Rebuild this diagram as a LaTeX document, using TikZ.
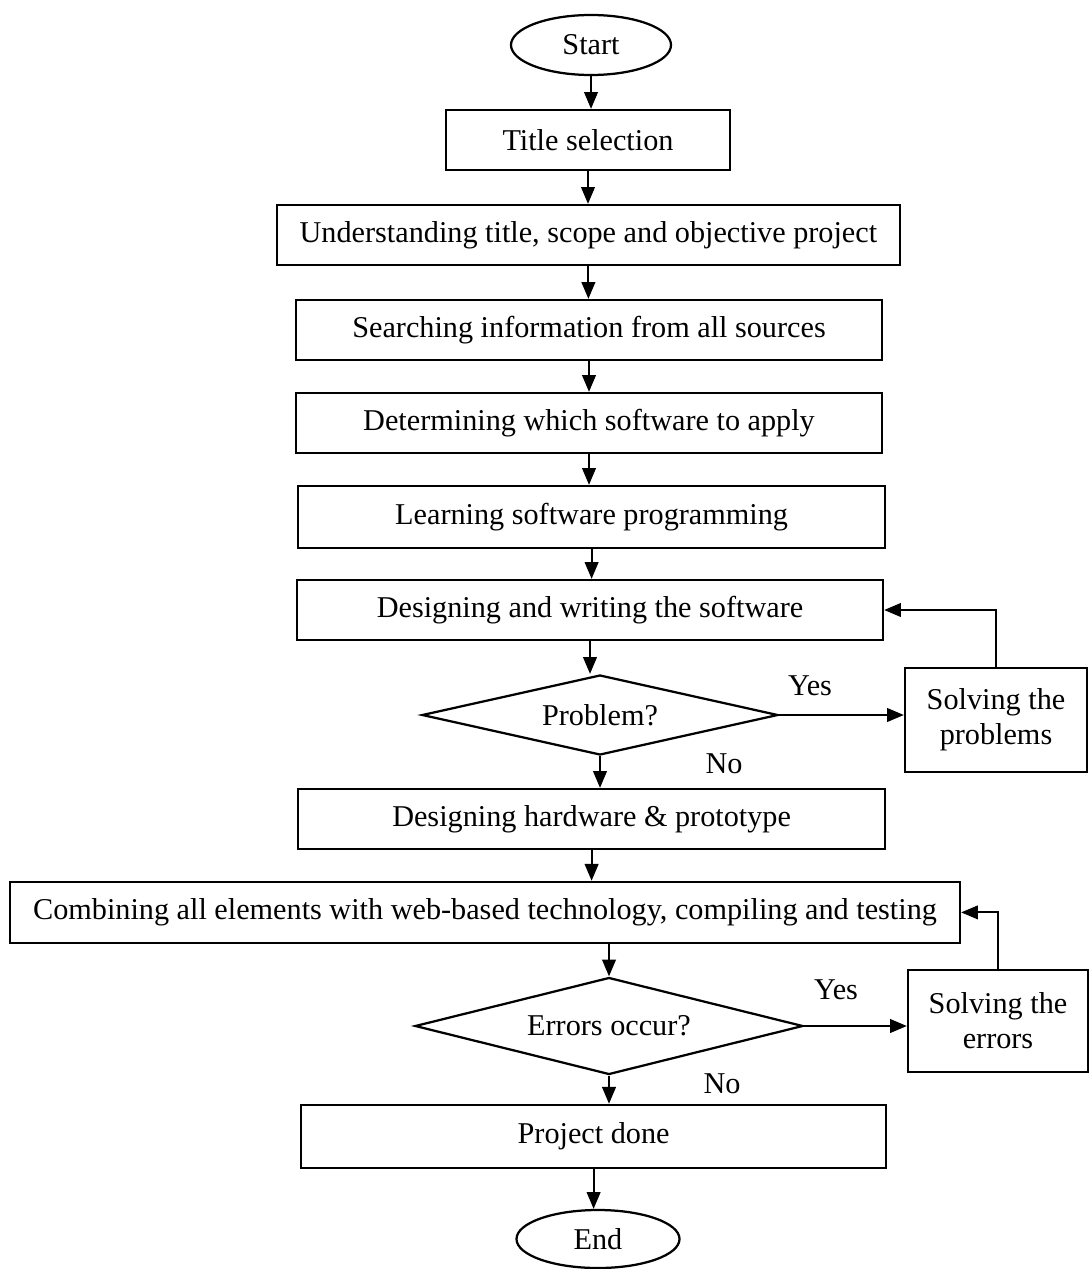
\documentclass[tikz,border=0pt]{standalone}
\usepackage{fontspec}
\setmainfont{Liberation Serif}
\usetikzlibrary{shapes.geometric,arrows.meta}

\begin{document}
\begin{tikzpicture}[
    font=\fontsize{21.5}{25}\selectfont,
    every node/.style={line width=1.6pt},
    terminal/.style={draw, ellipse, minimum width=4cm, minimum height=1.5cm},
    stepbox/.style={draw, rectangle, minimum height=1.5cm, align=center},
    decision/.style={draw, diamond, aspect=4.4, inner sep=0pt},
    flow/.style={line width=1.5pt, -{Triangle[length=0.42cm, width=0.34cm]}}
  ]
    \useasboundingbox (0,0) rectangle (27.225,-31.725);

    % main column
    \node[terminal] (start) at (14.775,-1.125) {Start};
    \node[stepbox, minimum width=7.1cm] (title) at (14.7,-3.5) {Title selection};
    \node[stepbox, minimum width=15.575cm] (underst) at (14.71,-5.875) {Understanding title, scope and objective project};
    \node[stepbox, minimum width=14.65cm] (search) at (14.725,-8.25) {Searching information from all sources};
    \node[stepbox, minimum width=14.65cm] (determ) at (14.725,-10.575) {Determining which software to apply};
    \node[stepbox, minimum width=14.675cm, minimum height=1.55cm] (learn) at (14.79,-12.925) {Learning software programming};
    \node[stepbox, minimum width=14.65cm] (design) at (14.75,-15.25) {Designing and writing the software};
    \node[decision, minimum width=8.9cm, minimum height=2cm] (problem) at (15,-17.875) {Problem?};
    \node[stepbox, minimum width=14.675cm] (hard) at (14.79,-20.475) {Designing hardware \& prototype};
    \node[stepbox, minimum width=23.75cm, minimum height=1.525cm] (combine) at (12.125,-22.81) {Combining all elements with web-based technology, compiling and testing};
    \node[decision, minimum width=9.7cm, minimum height=2.425cm] (errors) at (15.225,-25.65) {Errors occur?};
    \node[stepbox, minimum width=14.625cm, minimum height=1.575cm] (done) at (14.84,-28.41) {Project done};
    \node[terminal, minimum width=4.075cm, minimum height=1.45cm] (finish) at (14.95,-30.975) {End};

    % side boxes
    \node[stepbox, minimum width=4.55cm, minimum height=2.6cm] (solveprob) at (24.9,-18) {Solving the\\problems};
    \node[stepbox, minimum width=4.5cm, minimum height=2.55cm] (solveerr) at (24.95,-25.525) {Solving the\\errors};

    % branch labels
    \node (yesprob) at (20.25,-17.15) {Yes};
    \node (noprob) at (18.1,-19.1) {No};
    \node (yeserr) at (20.9,-24.75) {Yes};
    \node (noerr) at (18.05,-27.1) {No};

    % downward arrows
    \foreach \a/\b in {start/title, title/underst, underst/search, search/determ,
                       determ/learn, learn/design, design/problem, problem/hard,
                       hard/combine, errors/done, done/finish} {
      \draw[flow] (\a.south) -- (\a.south |- \b.north);
    }
    \draw[flow] (errors.north |- combine.south) -- (errors.north);

    % yes branches and loops back
    \draw[flow] (problem.east) -- (problem.east -| solveprob.west);
    \draw[flow] (solveprob.north) |- (design.east);
    \draw[flow] (errors.east) -- (errors.east -| solveerr.west);
    \draw[flow] (solveerr.north) |- (combine.east);
\end{tikzpicture}
\end{document}
